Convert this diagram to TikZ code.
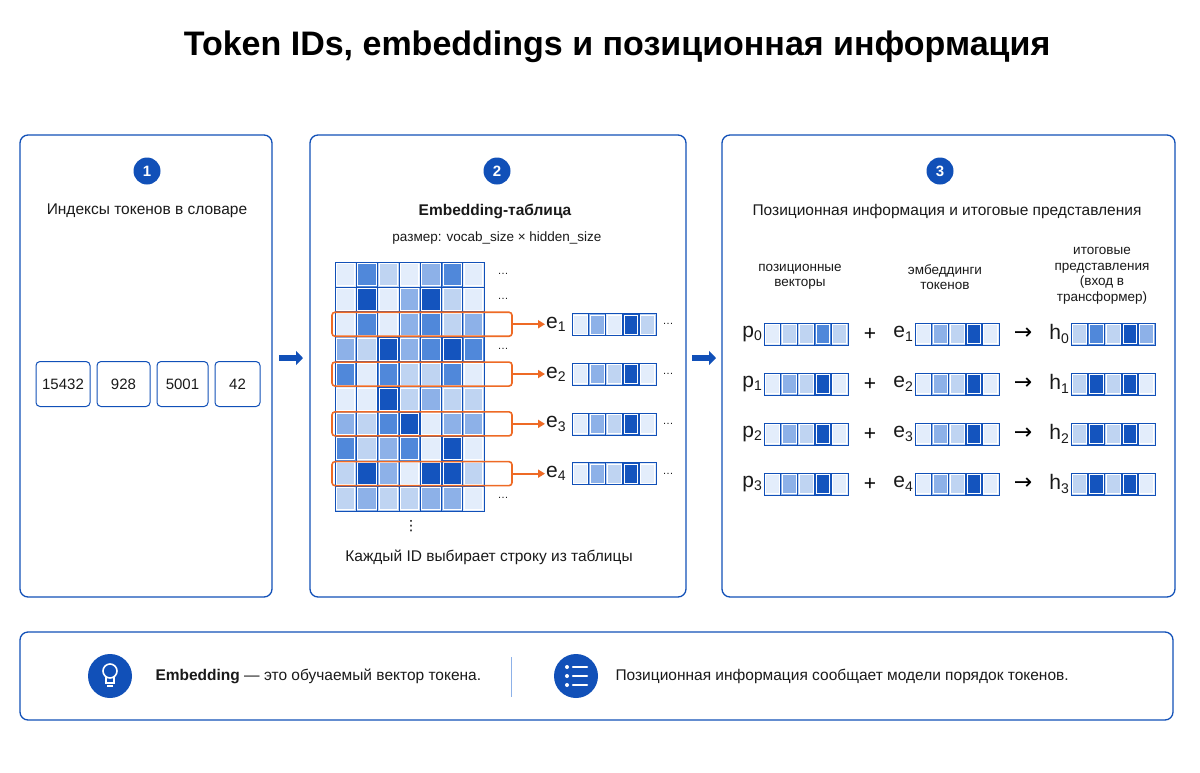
\documentclass[tikz,border=0pt]{standalone}
\usepackage{fontspec}
\setmainfont{Liberation Sans}
\newfontfamily\djv{DejaVu Sans}
\usetikzlibrary{arrows.meta}
\definecolor{bl}{HTML}{1150B8}
\definecolor{lvA}{HTML}{E3EDFB}
\definecolor{lvB}{HTML}{BFD4F2}
\definecolor{lvC}{HTML}{8DB1E8}
\definecolor{lvD}{HTML}{5088DA}
\definecolor{lvE}{HTML}{1454BE}
\definecolor{org}{HTML}{EE6A25}
\definecolor{tx}{HTML}{1A1A1A}
\tikzset{
 panel/.style={draw=bl,line width=1.3pt,rounded corners=8pt,fill=white},
 num/.style={circle,fill=bl,minimum size=27pt,inner sep=0,text=white,font=\fontsize{15}{15}\selectfont\bfseries},
 ttl/.style={font=\fontsize{15.5}{17}\selectfont,text=tx},
 small/.style={font=\fontsize{13.5}{15.5}\selectfont,text=tx,align=center},
 tok/.style={draw=bl,line width=1pt,rounded corners=4pt,minimum height=45pt,font=\fontsize{15}{15}\selectfont,text=tx},
 lab/.style={font=\fontsize{21}{21}\selectfont,text=tx,anchor=east,inner sep=1pt},
 bigarr/.style={-{Triangle[length=7pt,width=14pt]},line width=6pt,draw=bl},
 oarr/.style={-{Triangle[length=7pt,width=8pt]},line width=2pt,draw=org},
 dots/.style={font=\fontsize{11}{11}\selectfont,text=tx}
}
\newcommand\sbs[1]{\raisebox{-0.3ex}{\fontsize{14}{14}\selectfont #1}}
\newcommand\vrow[3]{%
 \edef\mylist{#3}%
 \foreach \c [count=\i from 0] in \mylist {\fill[lv\c] ({#1+\i*16.8},{#2-11}) rectangle ++(16.8,22);
   \draw[white,line width=0.8pt] ({#1+\i*16.8+1.5},{#2-9.5}) rectangle ++(13.8,19);}
 \draw[bl,line width=1pt] (#1,{#2-11}) rectangle ++(84,22);
 \foreach \i in {1,...,4}\draw[bl,line width=1pt] ({#1+\i*16.8},{#2-11}) -- ++(0,22);}
\begin{document}
\begin{tikzpicture}[x=1pt,y=-1pt]
\useasboundingbox[fill=white] (0,0) rectangle (1200,772);
\node[font=\fontsize{34}{36}\selectfont\bfseries] (title) at (617,47) {Token IDs, embeddings и позиционная информация};
\draw[panel] (20,135) rectangle (272,597);
\draw[panel] (310,135) rectangle (686,597);
\draw[panel] (722,135) rectangle (1175,597);
\draw[panel] (20,632) rectangle (1173,720);
\node[num] (n1) at (147,171) {1};
\node[num] (n2) at (497,171) {2};
\node[num] (n3) at (940,171) {3};
\node[ttl] (t1) at (147,211) {Индексы токенов в словаре};
\node[ttl] (t2) at (495,211) {\bfseries Embedding-таблица};
\node[small] (t2b) at (497,238) {размер: vocab\_size × hidden\_size};
\node[ttl] (t3) at (947,211) {Позиционная информация и итоговые представления};
\node[tok,minimum width=54pt] (k1) at (63,384) {15432};
\node[tok,minimum width=53pt] (k2) at (123.5,384) {928};
\node[tok,minimum width=51pt] (k3) at (182.5,384) {5001};
\node[tok,minimum width=45pt] (k4) at (237.5,384) {42};
\coordinate (a1s) at (279,358); \coordinate (a1e) at (303,358);
\draw[bigarr] (a1s) -- (a1e);
\coordinate (a2s) at (692,358); \coordinate (a2e) at (716,358);
\draw[bigarr] (a2s) -- (a2e);
\def\gx{335}\def\gy{262}
\foreach \r [count=\j from 0] in {{A,D,B,A,C,D,A},{A,E,A,C,E,B,A},{A,D,A,C,D,B,C},{C,B,E,C,D,E,D},{D,A,D,B,B,D,A},{A,A,E,B,C,B,B},{C,B,D,E,A,C,C},{D,B,C,D,A,E,A},{B,E,C,A,E,E,B},{B,C,B,B,C,C,A}}{
 \foreach \c [count=\i from 0] in \r {
  \fill[lv\c] ({\gx+\i*21.3},{\gy+\j*24.9}) rectangle ++(21.3,24.9);
  \draw[white,line width=0.8pt] ({\gx+\i*21.3+1.5},{\gy+\j*24.9+1.5}) rectangle ++(18.3,21.9);
  \draw[bl,line width=0.8pt] ({\gx+\i*21.3},{\gy+\j*24.9}) rectangle ++(21.3,24.9);}}
\draw[bl,line width=1pt] (\gx,\gy) rectangle ++(149.1,249);
\foreach \j/\y in {0/274,1/299,3/349,9/498}\node[dots] (gd\j) at (503,\y) {\dots};
\node[font=\djv\fontsize{14}{14}\selectfont,inner sep=0] (vd) at (411,526) {⋮};
\foreach \k/\j in {1/2,2/4,3/6,4/8}{
 \node[draw=org,line width=1.6pt,rounded corners=3pt,minimum width=180pt,minimum height=24pt,inner sep=0] (o\k) at (422,{\gy+\j*24.9+12.45}) {};
 \node[lab,anchor=west] (e\k) at (545,{\gy+\j*24.9+12.45}) {e\sbs{\k}};
 \draw[oarr] (o\k) -- (e\k);
 \node[dots] (ed\k) at (668,{\gy+\j*24.9+12.45}) {\dots};}
\vrow{572}{324.5}{A,C,A,E,B}
\vrow{572}{374.3}{A,C,B,E,A}
\vrow{572}{424.1}{A,C,B,E,A}
\vrow{572}{473.9}{A,C,B,E,A}
\node[ttl] (cap) at (489,557) {Каждый ID выбирает строку из таблицы};
\node[small] (h1) at (800,277) {позиционные\\векторы};
\node[small] (h2) at (945,277) {эмбеддинги\\токенов};
\node[small] (h3) at (1102,276) {итоговые\\представления\\(вход в\\трансформер)};
\foreach \k/\y/\P/\E/\H [count=\n from 0] in {0/334/{A,B,B,D,B}/{A,C,B,E,A}/{B,D,B,E,C},1/384/{A,C,B,E,A}/{A,C,B,E,A}/{B,E,B,E,A},2/434/{A,C,B,E,A}/{A,C,B,E,A}/{B,E,B,E,A},3/484/{A,C,B,E,A}/{A,C,B,E,A}/{B,E,B,E,A}}{
 \vrow{764}{\y}{\P}
 \vrow{915}{\y}{\E}
 \vrow{1071}{\y}{\H}
 \node[lab] (p\n) at (763,\y) {p\sbs{\n}};
 \node[font=\fontsize{21}{21}\selectfont] (plus\n) at (870,\y) {+};
 \pgfmathtruncatemacro\ee{\n+1}
 \node[lab] (pe\n) at (914,\y) {e\sbs{\ee}};
 \node[font=\djv\fontsize{22}{22}\selectfont] (ar\n) at (1023,\y) {→};
 \node[lab] (h\n) at (1070,\y) {h\sbs{\n}};}
\node[circle,fill=bl,minimum size=44pt,inner sep=0] (ic1) at (110,676) {};
\draw[white,line width=1.6pt] (110,671) circle (7);
\draw[white,line width=1.6pt] (106,677) -- (106,683) -- (114,683) -- (114,677);
\draw[white,line width=1.4pt] (107,686) -- (113,686);
\node[ttl,anchor=west] (b1) at (152,676) {\bfseries Embedding\mdseries\ — это обучаемый вектор токена.};
\draw[lvC,line width=1pt] (511,657) -- (511,697);
\node[circle,fill=bl,minimum size=44pt,inner sep=0] (ic2) at (576,676) {};
\foreach \dy in {-9,0,9}{\fill[white] (567,{676+\dy}) circle (2);
 \draw[white,line width=2.5pt,line cap=round] (573,{676+\dy}) -- (587,{676+\dy});}
\node[ttl,anchor=west] (b2) at (612,676) {Позиционная информация сообщает модели порядок токенов.};
\end{tikzpicture}
\end{document}
